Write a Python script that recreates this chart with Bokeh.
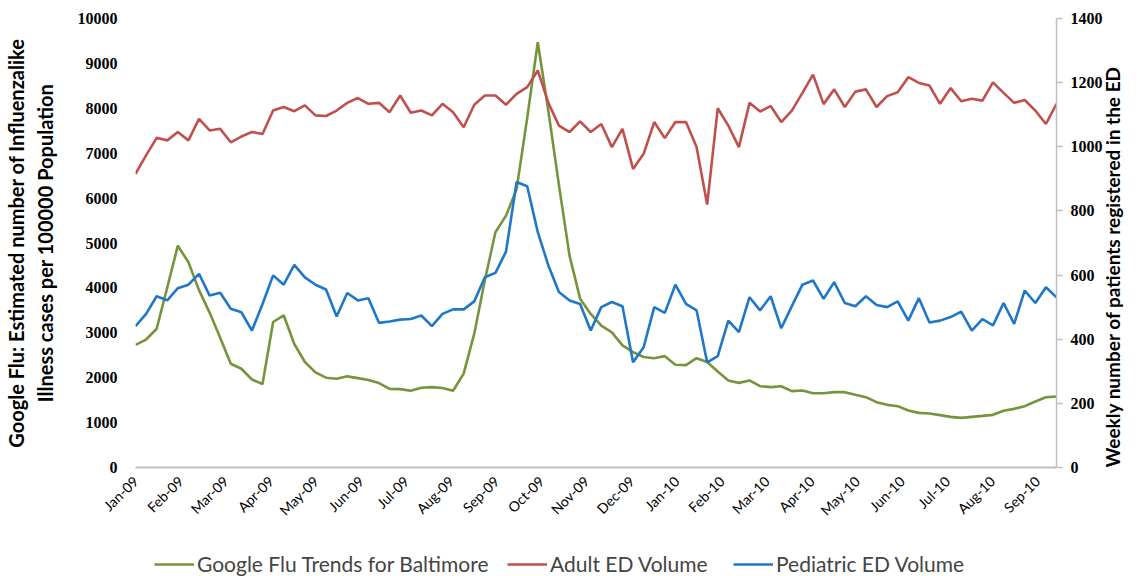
import math
from bokeh.plotting import figure
from bokeh.layouts import column
from bokeh.models import (LinearAxis, Range1d, FixedTicker, CustomJSTickFormatter,
                          Legend, LegendItem)
from bokeh.embed import file_html
from bokeh.resources import INLINE

# ---------------- data ----------------
month_tick_labels = ["Jan-09", "Feb-09", "Mar-09", "Apr-09", "May-09", "Jun-09", "Jul-09",
                     "Aug-09", "Sep-09", "Oct-09", "Nov-09", "Dec-09", "Jan-10", "Feb-10",
                     "Mar-10", "Apr-10", "May-10", "Jun-10", "Jul-10", "Aug-10", "Sep-10"]
weeks_per_label = 4.26   # spacing of the month labels on the weekly axis

google_flu = [2730, 2850, 3090, 4010, 4940, 4570, 3950, 3450, 2890, 2310,
              2200, 1960, 1860, 3240, 3390, 2750, 2350, 2120, 2000, 1975,
              2030, 1990, 1950, 1880, 1750, 1745, 1710, 1775, 1790, 1770,
              1710, 2090, 2980, 4170, 5240, 5610, 6200, 7780, 9470, 7940,
              6290, 4720, 3760, 3420, 3160, 3010, 2720, 2570, 2460, 2435,
              2480, 2290, 2280, 2435, 2350, 2140, 1940, 1885, 1940, 1810,
              1790, 1810, 1700, 1715, 1655, 1655, 1678, 1678, 1618, 1566,
              1455, 1395, 1366, 1269, 1217, 1203, 1166, 1128, 1106, 1128,
              1150, 1173, 1262, 1306, 1366, 1470, 1566, 1580]

adult_ed = [916, 973, 1028, 1020, 1046, 1020, 1087, 1051, 1056, 1014, 1032, 1046,
            1040, 1113, 1124, 1111, 1129, 1098, 1096, 1113, 1137, 1152,
            1134, 1137, 1108, 1160, 1106, 1113, 1098, 1134, 1108, 1061, 1131,
            1160, 1160, 1131, 1165, 1186, 1238, 1137, 1066, 1046, 1079, 1046,
            1071, 999, 1056, 931, 978, 1077, 1027, 1077, 1077, 999, 820,
            1120, 1066, 999, 1137, 1110, 1127, 1077, 1113, 1168, 1225, 1133,
            1179, 1124, 1172, 1179, 1124, 1158, 1170, 1217, 1199, 1191,
            1134, 1183, 1142, 1150, 1144, 1201, 1168, 1137, 1146, 1113, 1071, 1134]

pediatric_ed = [441, 479, 534, 521, 559, 570, 604, 536, 545, 495, 484, 427,
                510, 599, 570, 632, 593, 570, 555, 471, 544, 521,
                528, 451, 455, 461, 463, 474, 441, 479, 493, 493, 518,
                593, 607, 673, 890, 877, 734, 630, 547, 521, 510, 427,
                500, 516, 503, 328, 375, 500, 482, 570, 510, 490, 328,
                347, 458, 422, 531, 490, 534, 434, 503, 570, 583, 526,
                578, 513, 503, 534, 507, 500, 518, 458, 528, 452,
                458, 469, 486, 427, 463, 443, 513, 448, 552, 513, 562, 531]

series_names = ["Google Flu Trends for Baltimore", "Adult ED Volume", "Pediatric ED Volume"]
series_colors = ["#77933C", "#C0504D", "#1F77C8"]

left_max, right_max = 10000, 1400
left_ticks = list(range(0, left_max + 1, 1000))
right_ticks = list(range(0, right_max + 1, 200))

# ---------------- layout (pixels) ----------------
W, H = 1139, 576
MAIN_H = 530
FRAME_L, FRAME_R, FRAME_T, ZERO_Y = 128, 1056, 18, 467

FONT = "Lato"
NUM_FONT = "Liberation Serif"

week_index = list(range(len(google_flu)))
tick_pos = [i * weeks_per_label for i in range(len(month_tick_labels))]
last = len(google_flu) - 1

p = figure(width=W, height=MAIN_H, output_backend="svg", toolbar_location=None,
           x_range=Range1d(0, last), y_range=Range1d(0, left_max),
           min_border_left=FRAME_L, min_border_right=W - FRAME_R,
           min_border_top=FRAME_T, min_border_bottom=MAIN_H - ZERO_Y)
p.extra_y_ranges = {"ed": Range1d(0, right_max)}
p.xgrid.visible = False
p.ygrid.visible = False
p.outline_line_color = None

# left axis
ly = p.yaxis[0]
ly.ticker = FixedTicker(ticks=left_ticks)
ly.axis_line_color = None
ly.major_tick_line_color = None
ly.minor_tick_line_color = None
ly.major_tick_out = 0
ly.major_tick_in = 0
ly.major_label_standoff = 18
ly.major_label_text_font = NUM_FONT
ly.major_label_text_font_style = "bold"
ly.major_label_text_font_size = "16px"
ly.major_label_text_color = "black"
ly.axis_label = "Google Flu: Estimated number of Influenzalike\nIllness cases per 100000 Population"
ly.axis_label_standoff = 18
ly.axis_label_text_font = FONT
ly.axis_label_text_font_style = "bold"
ly.axis_label_text_font_size = "20px"
ly.axis_label_text_color = "black"

# right axis
ry = LinearAxis(y_range_name="ed", ticker=FixedTicker(ticks=right_ticks))
ry.axis_line_color = "#BFBFBF"
ry.axis_line_width = 1.5
ry.major_tick_line_color = "#BFBFBF"
ry.major_tick_line_width = 1.5
ry.major_tick_out = 6
ry.major_tick_in = 0
ry.minor_tick_line_color = None
ry.major_label_standoff = 8
ry.major_label_text_font = NUM_FONT
ry.major_label_text_font_style = "bold"
ry.major_label_text_font_size = "16px"
ry.major_label_text_color = "black"
ry.axis_label = "Weekly number of patients registered in the ED"
ry.axis_label_standoff = 7
ry.axis_label_text_font = FONT
ry.axis_label_text_font_style = "bold"
ry.axis_label_text_font_size = "19px"
ry.axis_label_text_color = "black"
try:
    ry.axis_label_orientation = math.pi / 2     # read bottom-to-top
except Exception:
    pass
try:
    ry.axis_label_align = "start"
except Exception:
    pass
p.add_layout(ry, "right")

# bottom axis
bx = p.xaxis[0]
bx.ticker = FixedTicker(ticks=tick_pos)
bx.formatter = CustomJSTickFormatter(args=dict(labels=month_tick_labels),
                                     code="return labels[index];")
bx.axis_line_color = "#BFBFBF"
bx.axis_line_width = 2
bx.major_tick_line_color = None
bx.minor_tick_line_color = None
bx.major_tick_out = 0
bx.major_tick_in = 0
bx.major_label_orientation = math.pi / 4
bx.major_label_standoff = 11
bx.major_label_text_font = FONT
bx.major_label_text_font_size = "14px"
bx.major_label_text_color = "black"

series = [(google_flu, None), (adult_ed, "ed"), (pediatric_ed, "ed")]
for (vals, rng), col in zip(series, series_colors):
    kw = {} if rng is None else {"y_range_name": rng}
    p.line(week_index, vals, line_color=col, line_width=2.6, **kw)

# ---------------- legend strip underneath ----------------
leg = figure(width=W, height=H - MAIN_H, output_backend="svg", toolbar_location=None,
             x_axis_location=None, y_axis_location=None, min_border=0,
             x_range=Range1d(0, last), y_range=Range1d(-2, -1))
leg.xgrid.visible = False
leg.ygrid.visible = False
leg.outline_line_color = None
legend_x = [19, 372, 598]      # offsets from the (aligned) plot frame's left edge
for (vals, rng), col, name, lx in zip(series, series_colors, series_names, legend_x):
    r = leg.line(week_index, vals, line_color=col, line_width=2.6)   # lies outside the strip's range
    leg.add_layout(Legend(items=[LegendItem(label=name, renderers=[r])],
                          orientation="horizontal", location=(lx, 0),
                          border_line_color=None, background_fill_alpha=0,
                          label_text_font=FONT, label_text_font_size="21px",
                          glyph_width=40, margin=0, padding=0, label_standoff=3))

open("out.html", "w").write(file_html(column(p, leg, spacing=0), INLINE))
